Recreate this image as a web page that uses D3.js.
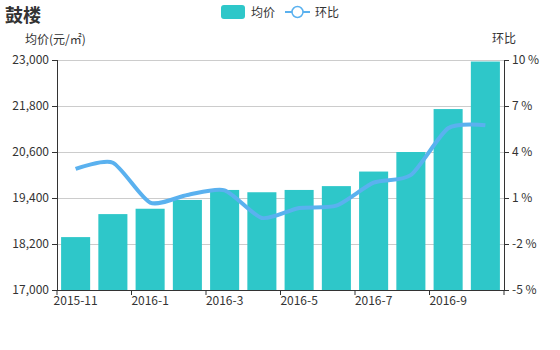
<!DOCTYPE html>
<html><head><meta charset="utf-8">
<script src="https://cdn.jsdelivr.net/npm/d3@7"></script>
<style>body{margin:0;background:#fff;}svg{display:block;font-family:"Microsoft YaHei","Noto Sans CJK SC",sans-serif;}</style>
</head><body><svg id="c" width="560" height="350"></svg>
<script>
const categories = ["2015-11","2015-12","2016-1","2016-2","2016-3","2016-4","2016-5","2016-6","2016-7","2016-8","2016-9","2016-10"];
const priceValues = [18380,18980,19120,19350,19610,19550,19610,19710,20090,20600,21720,22960];
const ratioValues = [2.9,3.3,0.7,1.2,1.5,-0.3,0.35,0.5,2.0,2.5,5.55,5.75];
const leftTicks = [17000,18200,19400,20600,21800,23000];
const rightTicks = [-5,-2,1,4,7,10];

const svg = d3.select("#c");
const L = 57, R = 504, T = 60, B = 290;
const x = d3.scaleBand().domain(categories).range([L,R]).paddingInner(0).paddingOuter(0);
const yL = d3.scaleLinear().domain([17000,23000]).range([B,T]);
const yR = d3.scaleLinear().domain([-5,10]).range([B,T]);
const barColor = "#2ec7c9", lineColor = "#5ab1ef", txt = "#333";

// grid
svg.append("g").selectAll("line").data(leftTicks.slice(1)).join("line")
  .attr("x1",L).attr("x2",R).attr("y1",d=>yL(d)+0.5).attr("y2",d=>yL(d)+0.5)
  .attr("stroke","#ccc").attr("stroke-width",1);

// bars
const bw = x.bandwidth()*0.78;
svg.append("g").selectAll("rect").data(priceValues).join("rect")
  .attr("x",(d,i)=>x(categories[i])+(x.bandwidth()-bw)/2)
  .attr("width",bw)
  .attr("y",d=>yL(d)).attr("height",d=>B-yL(d))
  .attr("fill",barColor);

// line
const line = d3.line().x((d,i)=>x(categories[i])+x.bandwidth()/2).y(d=>yR(d)).curve(d3.curveCardinal.tension(0.3));
svg.append("path").datum(ratioValues).attr("d",line).attr("fill","none")
  .attr("stroke",lineColor).attr("stroke-width",4).attr("stroke-linecap","butt");

// left axis
const gL = svg.append("g").attr("transform",`translate(${L},0)`)
  .call(d3.axisLeft(yL).tickValues(leftTicks).tickFormat(d3.format(",")).tickSize(5).tickPadding(3));
// right axis
const gR = svg.append("g").attr("transform",`translate(${R},0)`)
  .call(d3.axisRight(yR).tickValues(rightTicks).tickFormat(d=>d+" %").tickSize(5).tickPadding(3));
// bottom axis
const tickCats = categories.filter((d,i)=>i%2===0);
const gB = svg.append("g").attr("transform",`translate(0,${B})`)
  .call(d3.axisBottom(x).tickValues(tickCats).tickSize(0).tickPadding(6));
gB.selectAll(".tick line").remove();
gB.append("g").selectAll("line").data(tickCats.concat(["__end"])).join("line")
  .attr("x1",d=>d==="__end"?R:x(d)).attr("x2",d=>d==="__end"?R:x(d))
  .attr("y1",0).attr("y2",5).attr("stroke",txt);
[gL,gR,gB].forEach(g=>{
  g.select(".domain").attr("stroke",txt).attr("stroke-width",1);
  g.selectAll(".tick line").attr("stroke",txt);
  g.selectAll("text").attr("fill",txt).attr("font-size",12).attr("font-family",'"Microsoft YaHei","Noto Sans CJK SC",sans-serif');
});
gL.select(".domain").attr("d",`M0.5,${T}V${B}`);
gR.select(".domain").attr("d",`M0.5,${T}V${B}`);
gB.select(".domain").attr("d",`M${L},0.5H${R}`);

// title
svg.append("text").attr("x",5).attr("y",22).text("鼓楼").attr("font-size",18).attr("font-weight","bold").attr("fill",txt);
// axis names
svg.append("text").attr("x",25).attr("y",44).text("均价(元/㎡)").attr("font-size",12).attr("fill",txt);
svg.append("text").attr("x",R).attr("y",43).attr("text-anchor","middle").text("环比").attr("font-size",12).attr("fill",txt);

// legend
const lg = svg.append("g");
lg.append("rect").attr("x",221).attr("y",5).attr("width",24).attr("height",14).attr("rx",3).attr("fill",barColor);
lg.append("text").attr("x",251).attr("y",17).text("均价").attr("font-size",12).attr("fill",txt);
lg.append("line").attr("x1",285).attr("x2",310).attr("y1",12).attr("y2",12).attr("stroke",lineColor).attr("stroke-width",2);
lg.append("circle").attr("cx",297.5).attr("cy",12).attr("r",5.5).attr("fill","#fff").attr("stroke",lineColor).attr("stroke-width",1.5);
lg.append("text").attr("x",315).attr("y",17).text("环比").attr("font-size",12).attr("fill",txt);
</script></body></html>
